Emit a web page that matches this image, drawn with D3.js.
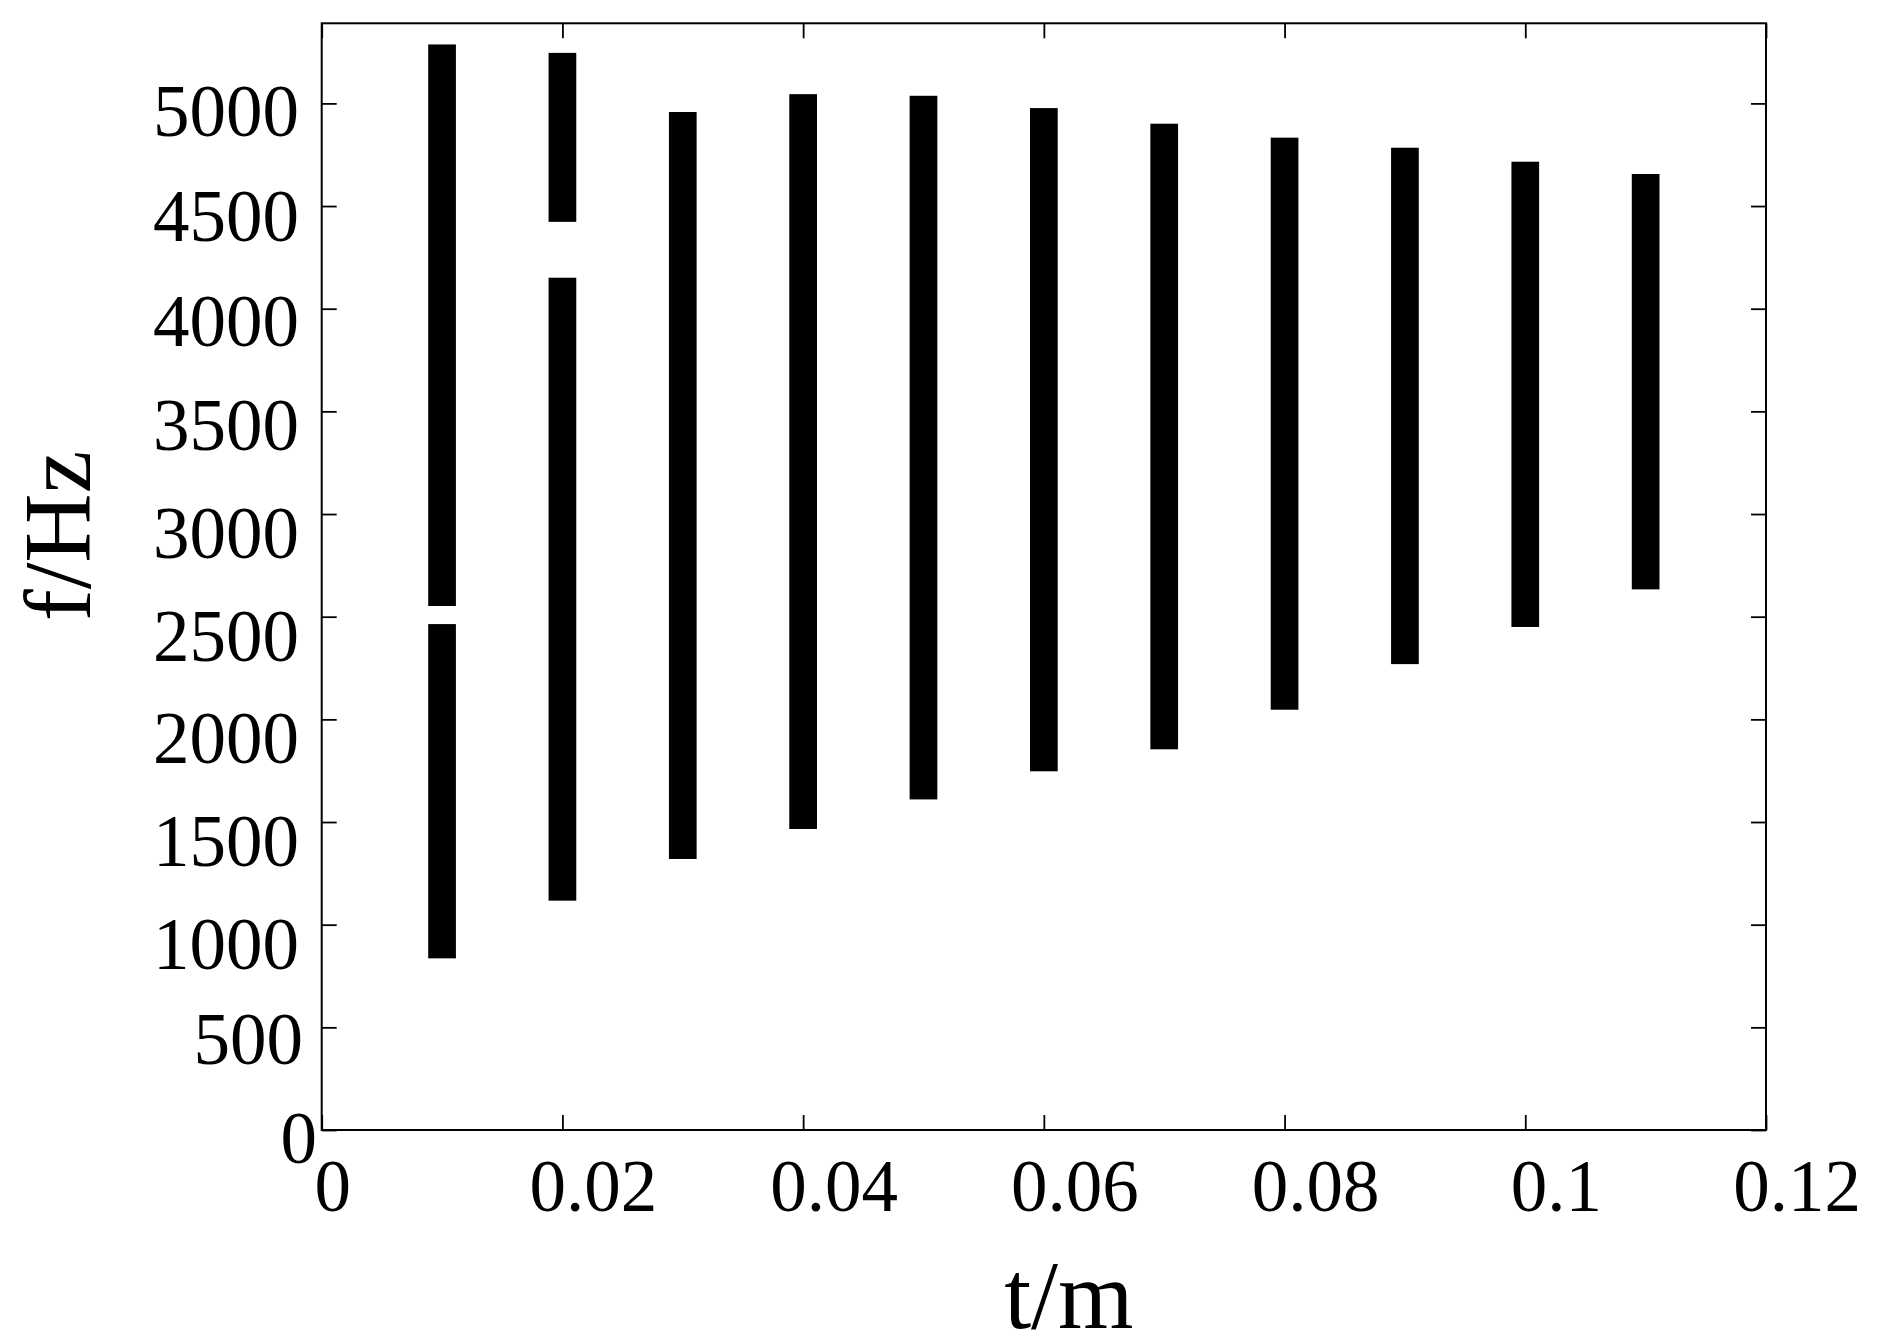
<!DOCTYPE html>
<html>
<head>
<meta charset="utf-8">
<script src="https://cdn.jsdelivr.net/npm/d3@7"></script>
<style>
  html, body { margin: 0; padding: 0; background: #fff; }
  svg { display: block; }
  text { font-family: "Liberation Serif", "Times New Roman", serif; fill: #000; }
</style>
</head>
<body>
<svg id="chart" width="1878" height="1344"></svg>
<script>
// ---- data ----
const segT    = [0.01, 0.01, 0.02, 0.02, 0.03, 0.04, 0.05, 0.06, 0.07, 0.08, 0.09, 0.10, 0.11];
const segLow  = [2552,  836, 4423, 1117, 1320, 1466, 1610, 1747, 1854, 2047, 2269, 2450, 2633];
const segHigh = [5287, 2464, 5246, 4151, 4958, 5045, 5037, 4977, 4901, 4833, 4784, 4716, 4656];
const xTicks = [0, 0.02, 0.04, 0.06, 0.08, 0.1, 0.12];
const xTickLabels = ["0", "0.02", "0.04", "0.06", "0.08", "0.1", "0.12"];
const yTicks = [0, 500, 1000, 1500, 2000, 2500, 3000, 3500, 4000, 4500, 5000];
const xTitle = "t/m";
const yTitle = "f/Hz";

// ---- layout ----
const L = 321.7, R = 1766, T = 23.3, B = 1130;
const svg = d3.select("#chart");
const x = d3.scaleLinear().domain([0, 0.12]).range([L, R]);
const y = d3.scaleLinear().domain([0, 5390]).range([B, T]);
const barW = 27.7;
const tickLen = 15;

// bars
svg.append("g").selectAll("rect").data(segT.map((t, i) => ({t, lo: segLow[i], hi: segHigh[i]})))
  .join("rect")
  .attr("x", d => x(d.t) - barW / 2)
  .attr("width", barW)
  .attr("y", d => y(d.hi))
  .attr("height", d => y(d.lo) - y(d.hi))
  .attr("fill", "#000");

// axes with inward ticks
const axB = d3.axisBottom(x).tickValues(xTicks).tickSize(-tickLen).tickFormat("");
const axT = d3.axisTop(x).tickValues(xTicks).tickSize(-tickLen).tickFormat("");
const axL = d3.axisLeft(y).tickValues(yTicks).tickSize(-tickLen).tickFormat("");
const axR = d3.axisRight(y).tickValues(yTicks).tickSize(-tickLen).tickFormat("");
[[axB, `translate(0,${B})`], [axT, `translate(0,${T})`], [axL, `translate(${L},0)`], [axR, `translate(${R},0)`]]
  .forEach(([ax, tr]) => {
    const g = svg.append("g").attr("transform", tr).call(ax);
    g.select(".domain").remove();
    g.selectAll("line").attr("stroke", "#000").attr("stroke-width", 1.8);
  });

// frame
svg.append("rect").attr("x", L).attr("y", T).attr("width", R - L).attr("height", B - T)
  .attr("fill", "none").attr("stroke", "#000").attr("stroke-width", 2);

// y tick labels
const fs = 73;
svg.append("g").selectAll("text").data(yTicks).join("text")
  .attr("text-anchor", "end")
  .attr("font-size", fs)
  .attr("x", v => v === 0 ? 317 : (v === 500 ? 303 : 299))
  .attr("y", v => {
    const shift = v === 0 ? 8 : v === 500 ? 12 : (v >= 3500 ? 8 + (5000 - v) / 250 : 19);
    return y(v) + shift + 25;
  })
  .text(v => String(v));

// x tick labels
svg.append("g").selectAll("text").data(xTicks).join("text")
  .attr("text-anchor", "middle")
  .attr("font-size", fs)
  .attr("x", (v, i) => x(v) + (i === 0 ? 11 : 31))
  .attr("y", 1211)
  .text((v, i) => xTickLabels[i]);

// axis titles
svg.append("text").attr("text-anchor", "middle").attr("font-size", 97)
  .attr("x", (L + R) / 2 + 25).attr("y", 1328).text(xTitle);
svg.append("text").attr("text-anchor", "middle").attr("font-size", 96)
  .attr("transform", `translate(90,536) rotate(-90)`).text(yTitle);
</script>
</body>
</html>
